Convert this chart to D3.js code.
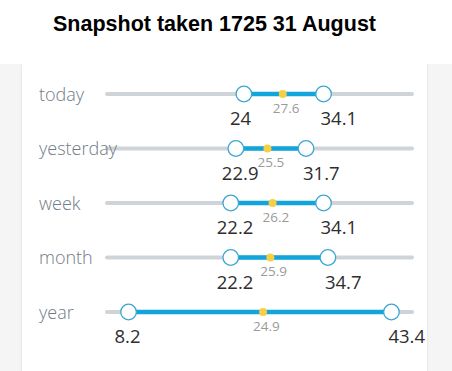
<!DOCTYPE html>
<html>
<head>
<meta charset="utf-8">
<script src="https://cdn.jsdelivr.net/npm/d3@7"></script>
<style>
  html, body { margin: 0; padding: 0; background: #ffffff; }
  svg { display: block; }
</style>
</head>
<body>
<svg id="chart" width="452" height="371"></svg>
<script>
const title = "Snapshot taken 1725 31 August";
const periods = ["today", "yesterday", "week", "month", "year"];
const minValues = [24, 22.9, 22.2, 22.2, 8.2];
const meanValues = [27.6, 25.5, 26.2, 25.9, 24.9];
const maxValues = [34.1, 31.7, 34.1, 34.7, 43.4];
const minLabels = ["24", "22.9", "22.2", "22.2", "8.2"];
const meanLabels = ["27.6", "25.5", "26.2", "25.9", "24.9"];
const maxLabels = ["34.1", "31.7", "34.1", "34.7", "43.4"];

const W = 452, H = 371;
const svg = d3.select("#chart");
const font = "'Open Sans', 'Noto Sans', sans-serif";

// page background + card
svg.append("rect").attr("x", 0).attr("y", 64).attr("width", W).attr("height", H - 64).attr("fill", "#f5f5f5");
const defs = svg.append("defs");
const f = defs.append("filter").attr("id", "sh").attr("x", "-10%").attr("y", "-10%").attr("width", "120%").attr("height", "120%");
f.append("feDropShadow").attr("dx", 0).attr("dy", 0).attr("stdDeviation", 1.5).attr("flood-color", "#000").attr("flood-opacity", 0.10);
svg.append("rect").attr("x", 22).attr("y", 64).attr("width", 405).attr("height", H - 64 + 10)
  .attr("fill", "#ffffff").attr("filter", "url(#sh)");
// white band above card
svg.append("rect").attr("x", 0).attr("y", 0).attr("width", W).attr("height", 64).attr("fill", "#ffffff");

svg.append("text").attr("x", 53).attr("y", 30.5)
  .attr("font-family", "'Liberation Sans', Arial, sans-serif").attr("font-weight", "bold")
  .attr("font-size", 21.5).attr("fill", "#000").text(title);

const x = d3.scaleLinear().domain([0, 50]).range([81.3, 446.3]);
const y = d3.scalePoint().domain(periods).range([94, 312]);

const trackLeft = 107, trackRight = 412;
const minShift = -12.6, maxShift = -6.7;

const rows = periods.map((p, i) => ({
  p, min: minValues[i], mean: meanValues[i], max: maxValues[i],
  minL: minLabels[i], meanL: meanLabels[i], maxL: maxLabels[i]
}));

const g = svg.append("g");
const row = g.selectAll("g.row").data(rows).join("g").attr("class", "row")
  .attr("transform", d => `translate(0,${y(d.p)})`);

row.append("line").attr("x1", trackLeft).attr("x2", trackRight)
  .attr("stroke", "#cfd4d9").attr("stroke-width", 4).attr("stroke-linecap", "round");

row.append("text").attr("x", 39).attr("y", 6.5)
  .attr("font-family", font).attr("font-weight", 300).attr("font-size", 18)
  .attr("fill", "#6f7b86").text(d => d.p);

row.append("line")
  .attr("x1", d => x(d.min) + minShift).attr("x2", d => x(d.max) + maxShift)
  .attr("stroke", "#12a5dc").attr("stroke-width", 4.5);

row.append("circle").attr("cx", d => x(d.mean)).attr("r", 4)
  .attr("fill", "#f6cf45");

row.append("circle").attr("cx", d => x(d.min) + minShift).attr("r", 7.8)
  .attr("fill", "#fff").attr("stroke", "#3da7cf").attr("stroke-width", 1.3);
row.append("circle").attr("cx", d => x(d.max) + maxShift).attr("r", 7.8)
  .attr("fill", "#fff").attr("stroke", "#3da7cf").attr("stroke-width", 1.3);

row.append("text").attr("x", d => x(d.min) + minShift - 14).attr("y", 31)
  .attr("font-family", font).attr("font-size", 18.5).attr("fill", "#2e2e2e")
  .text(d => d.minL);
row.append("text").attr("x", d => x(d.max) + maxShift - 3).attr("y", 31)
  .attr("font-family", font).attr("font-size", 18.5).attr("fill", "#2e2e2e")
  .text(d => d.maxL);
row.append("text").attr("x", d => x(d.mean) - 10).attr("y", 18.5)
  .attr("font-family", font).attr("font-size", 13.5).attr("fill", "#9a9a9a")
  .text(d => d.meanL);
</script>
</body>
</html>
